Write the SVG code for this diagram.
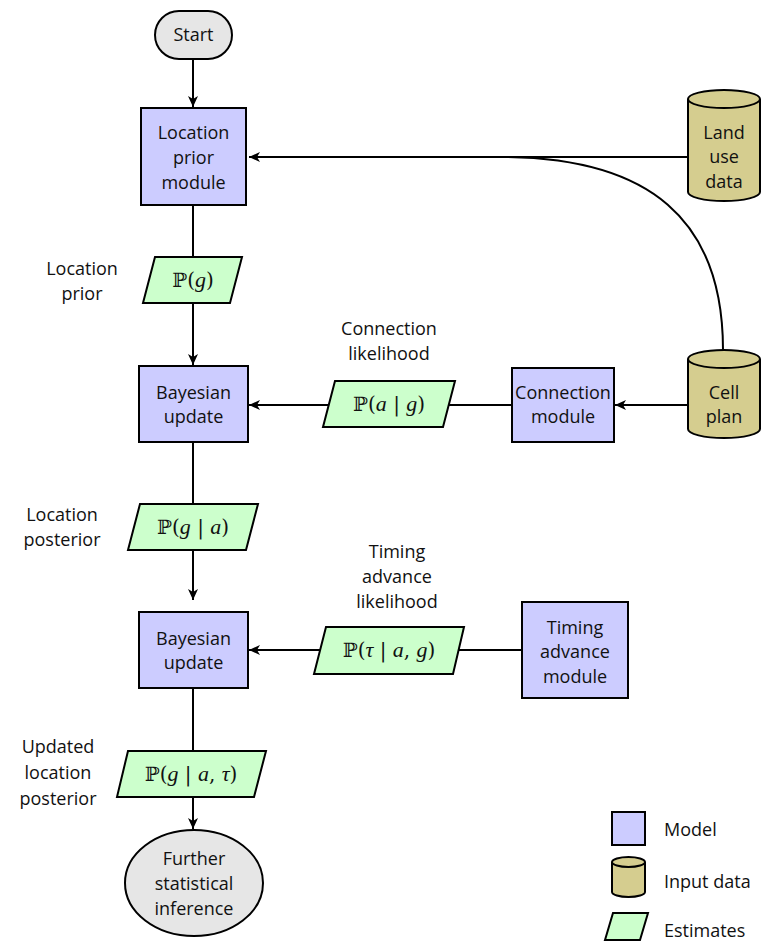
<svg xmlns="http://www.w3.org/2000/svg" width="763" height="947" viewBox="0 0 763 947">
<style>
.model{fill:#ccccff;stroke:#000;stroke-width:2}
.data{fill:#d5cd8f;stroke:#000;stroke-width:2}
.est{fill:#ccffcc;stroke:#000;stroke-width:2}
.term{fill:#e6e6e6;stroke:#000;stroke-width:2}
.t{font-family:"Open Sans","Liberation Sans",sans-serif;font-size:18px;fill:#111;text-anchor:middle}
.tl{font-family:"Open Sans","Liberation Sans",sans-serif;font-size:18px;fill:#111;text-anchor:start}
.m{font-family:"DejaVu Serif","Liberation Serif",serif;font-size:20px;fill:#111;text-anchor:middle}
.v{font-family:"Liberation Serif",serif;font-style:italic;font-size:22px}
.c{fill:none;stroke:#000;stroke-width:2}
</style>
<defs>
<marker id="ah" viewBox="0 0 12 12" refX="11" refY="6" markerWidth="12" markerHeight="12" markerUnits="userSpaceOnUse" orient="auto">
<path d="M0,1 L11,6 L0,11 L3,6 z" fill="#000"/>
</marker>
</defs>

<g id="connectors">
<line class="c" x1="193" y1="59" x2="193" y2="107" marker-end="url(#ah)"/>
<line class="c" x1="193" y1="205" x2="193" y2="257"/>
<line class="c" x1="193" y1="303" x2="193" y2="365" marker-end="url(#ah)"/>
<line class="c" x1="193" y1="442" x2="193" y2="504"/>
<line class="c" x1="193" y1="550" x2="193" y2="600" marker-end="url(#ah)"/>
<line class="c" x1="193" y1="688" x2="193" y2="751"/>
<line class="c" x1="193" y1="797" x2="193" y2="829" marker-end="url(#ah)"/>
<line class="c" x1="688" y1="157" x2="249" y2="157" marker-end="url(#ah)"/>
<path class="c" d="M723,350 C723,220 650,157 500,157"/>
<line class="c" x1="688" y1="405" x2="615" y2="405" marker-end="url(#ah)"/>
<line class="c" x1="512" y1="405" x2="449" y2="405"/>
<line class="c" x1="329" y1="405" x2="249" y2="405" marker-end="url(#ah)"/>
<line class="c" x1="522" y1="650" x2="459" y2="650"/>
<line class="c" x1="320" y1="650" x2="249" y2="650" marker-end="url(#ah)"/>
</g>

<g id="start">
<rect class="term" x="155" y="11" width="77" height="48" rx="24" ry="24"/>
<text class="t" x="193.5" y="41">Start</text>
</g>

<g id="location-prior-module">
<rect class="model" x="141" y="108" width="105" height="97"/>
<text class="t" x="193.5" y="139">Location</text>
<text class="t" x="193.5" y="164">prior</text>
<text class="t" x="193.5" y="189">module</text>
</g>

<g id="land-use-data">
<path class="data" d="M688,99 L688,192 A36,9 0 0 0 760,192 L760,99"/>
<ellipse class="data" cx="724" cy="99" rx="36" ry="9"/>
<text class="t" x="724" y="139">Land</text>
<text class="t" x="724" y="163">use</text>
<text class="t" x="724" y="188">data</text>
</g>

<g id="p-g">
<polygon class="est" points="155,257 242,257 230,303 143,303"/>
<text class="m" x="193" y="287">ℙ(<tspan class="v">g</tspan>)</text>
</g>
<text class="t" x="82" y="275">Location</text>
<text class="t" x="82" y="300">prior</text>

<g id="bayesian-update-1">
<rect class="model" x="139" y="366" width="109" height="76"/>
<text class="t" x="193.5" y="399">Bayesian</text>
<text class="t" x="193.5" y="423">update</text>
</g>

<g id="p-a-g">
<polygon class="est" points="335,381 455,381 443,427 323,427"/>
<text class="m" x="389" y="411">ℙ(<tspan class="v">a</tspan> | <tspan class="v">g</tspan>)</text>
</g>
<text class="t" x="389" y="335">Connection</text>
<text class="t" x="389" y="360">likelihood</text>

<g id="connection-module">
<rect class="model" x="512" y="368" width="102" height="74"/>
<text class="t" x="563" y="399">Connection</text>
<text class="t" x="563" y="423">module</text>
</g>

<g id="cell-plan">
<path class="data" d="M688,359 L688,429 A36,9 0 0 0 760,429 L760,359"/>
<ellipse class="data" cx="724" cy="359" rx="36" ry="9"/>
<text class="t" x="724" y="399">Cell</text>
<text class="t" x="724" y="423">plan</text>
</g>

<g id="p-g-a">
<polygon class="est" points="140,504 258,504 246,550 128,550"/>
<text class="m" x="193" y="534">ℙ(<tspan class="v">g</tspan> | <tspan class="v">a</tspan>)</text>
</g>
<text class="t" x="62" y="521">Location</text>
<text class="t" x="62" y="546">posterior</text>

<g id="bayesian-update-2">
<rect class="model" x="139" y="612" width="109" height="76"/>
<text class="t" x="193.5" y="645">Bayesian</text>
<text class="t" x="193.5" y="669">update</text>
</g>

<g id="p-tau-a-g">
<polygon class="est" points="326,627 464,627 453,674 314,674"/>
<text class="m" x="389" y="657">ℙ(<tspan class="v">τ</tspan> | <tspan class="v">a</tspan>, <tspan class="v">g</tspan>)</text>
</g>
<text class="t" x="397" y="558">Timing</text>
<text class="t" x="397" y="583">advance</text>
<text class="t" x="397" y="608">likelihood</text>

<g id="timing-advance-module">
<rect class="model" x="522" y="602" width="106" height="96"/>
<text class="t" x="575" y="634">Timing</text>
<text class="t" x="575" y="658">advance</text>
<text class="t" x="575" y="683">module</text>
</g>

<g id="p-g-a-tau">
<polygon class="est" points="128,751 266,751 254,797 117,797"/>
<text class="m" x="191" y="781">ℙ(<tspan class="v">g</tspan> | <tspan class="v">a</tspan>, <tspan class="v">τ</tspan>)</text>
</g>
<text class="t" x="58" y="753">Updated</text>
<text class="t" x="58" y="779">location</text>
<text class="t" x="58" y="805">posterior</text>

<g id="further-inference">
<ellipse class="term" cx="194" cy="883" rx="69" ry="53"/>
<text class="t" x="194" y="865">Further</text>
<text class="t" x="194" y="890">statistical</text>
<text class="t" x="194" y="915">inference</text>
</g>

<g id="legend">
<rect class="model" x="612" y="812" width="33" height="33"/>
<text class="tl" x="664" y="836">Model</text>
<path class="data" d="M612,862 L612,892 A16.5,5 0 0 0 645,892 L645,862"/>
<ellipse class="data" cx="628.5" cy="862" rx="16.5" ry="5"/>
<text class="tl" x="664" y="888">Input data</text>
<polygon class="est" points="613,913 648,913 640,940 605,940"/>
<text class="tl" x="664" y="937">Estimates</text>
</g>
</svg>
